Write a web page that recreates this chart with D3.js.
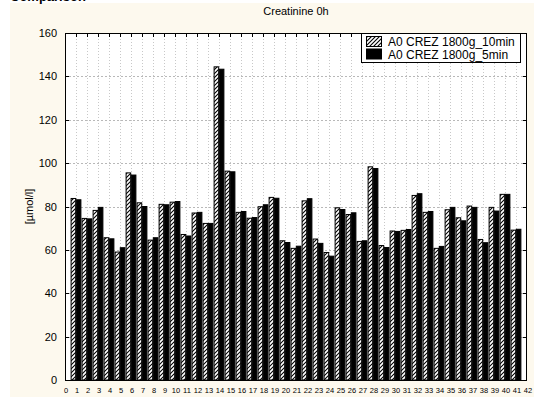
<!DOCTYPE html>
<html><head><meta charset="utf-8">
<script src="https://cdn.jsdelivr.net/npm/d3@7"></script>
<style>body{margin:0;background:#fff}svg{display:block;font-family:Arial,"Liberation Sans",sans-serif}</style>
</head><body><svg id="c" width="534" height="397"></svg>
<script>
const title = "Creatinine 0h";
const yLabel = "[µmol/l]";
const seriesNames = ["A0 CREZ 1800g_10min", "A0 CREZ 1800g_5min"];
const categories = d3.range(1, 42);
const xTickLabels = d3.range(0, 43);
const yTicks = [0, 20, 40, 60, 80, 100, 120, 140, 160];
const s10min = [83.7,74.5,78.2,65.6,59.0,95.5,81.7,64.5,81.0,82.0,67.1,77.0,72.2,144.4,96.3,77.3,74.6,79.9,84.2,64.2,60.7,82.6,65.0,58.8,79.4,76.3,63.9,98.3,62.0,68.7,69.0,85.1,77.3,60.7,78.5,74.8,80.2,64.8,79.6,85.6,69.1];
const s5min = [83.1,74.3,79.6,65.1,61.0,94.5,80.0,65.6,80.8,82.3,66.4,77.3,72.2,143.3,96.0,77.7,74.9,80.8,83.8,63.4,61.7,83.6,63.0,57.1,78.6,77.1,64.2,97.5,61.1,68.5,69.4,85.9,77.7,61.6,79.6,73.4,79.6,63.3,77.9,85.6,69.5];

const svg = d3.select("#c");
const W = 534, H = 397;
const m = {l: 65, t: 33, r: 527, b: 380};

svg.append("rect").attr("x",0).attr("y",0).attr("width",W).attr("height",H).attr("fill","#fff");
svg.append("rect").attr("x",10).attr("y",3).attr("width",W-10).attr("height",H-3).attr("fill","#fdf9ee");
svg.append("text").attr("x",10).attr("y",1).attr("font-weight","bold").attr("font-size",13).text("Comparison");

const defs = svg.append("defs");
const pat = defs.append("pattern").attr("id","hatch").attr("patternUnits","userSpaceOnUse")
  .attr("width",4).attr("height",4);
pat.append("rect").attr("width",4).attr("height",4).attr("fill","#fff");
pat.append("path").attr("d","M-1,1 l2,-2 M0,4 l4,-4 M3,5 l2,-2").attr("stroke","#000").attr("stroke-width",1.1);

const x = d3.scaleLinear().domain([0,42]).range([m.l, m.r]);
const y = d3.scaleLinear().domain([0,160]).range([m.b, m.t]);

svg.append("rect").attr("x",m.l).attr("y",m.t).attr("width",m.r-m.l).attr("height",m.b-m.t).attr("fill","#fff");

// grid
const g = svg.append("g");
g.selectAll(".vg").data(xTickLabels.slice(1,-1)).join("line")
  .attr("x1",d=>x(d)+0.5).attr("x2",d=>x(d)+0.5).attr("y1",m.t).attr("y2",m.b)
  .attr("stroke","#c8c8c8").attr("stroke-dasharray","1,2");
g.selectAll(".hg").data(yTicks.slice(1,-1)).join("line")
  .attr("y1",d=>Math.round(y(d))+0.5).attr("y2",d=>Math.round(y(d))+0.5).attr("x1",m.l).attr("x2",m.r)
  .attr("stroke","#b8b8b8").attr("stroke-dasharray","2,2");

// bars
const bw = 4.6;
const bars = svg.append("g");
bars.selectAll(".b1").data(categories).join("rect")
  .attr("x",(d,i)=>x(d)-bw-0.3).attr("width",bw)
  .attr("y",(d,i)=>y(s10min[i])).attr("height",(d,i)=>y(0)-y(s10min[i]))
  .attr("fill","url(#hatch)").attr("stroke","#000").attr("stroke-width",1);
bars.selectAll(".b2").data(categories).join("rect")
  .attr("x",(d,i)=>x(d)+0.3).attr("width",bw)
  .attr("y",(d,i)=>y(s5min[i])).attr("height",(d,i)=>y(0)-y(s5min[i]))
  .attr("fill","#000").attr("stroke","#000").attr("stroke-width",1);

// axes frame
svg.append("rect").attr("x",m.l+0.5).attr("y",m.t+0.5).attr("width",m.r-m.l-1).attr("height",m.b-m.t)
  .attr("fill","none").attr("stroke","#000").attr("stroke-width",1);

const ax = svg.append("g").attr("stroke","#000");
ax.selectAll(".tt").data(xTickLabels.slice(1,-1)).join("line")
  .attr("x1",d=>x(d)+0.5).attr("x2",d=>x(d)+0.5).attr("y1",m.t).attr("y2",m.t+4);
ax.selectAll(".lt").data(yTicks).join("line")
  .attr("x1",m.l).attr("x2",m.l+4).attr("y1",d=>Math.round(y(d))+0.5).attr("y2",d=>Math.round(y(d))+0.5);
ax.selectAll(".rt").data(yTicks).join("line")
  .attr("x1",m.r-4).attr("x2",m.r).attr("y1",d=>Math.round(y(d))+0.5).attr("y2",d=>Math.round(y(d))+0.5);

const yAxis = d3.axisLeft(y).tickValues(yTicks).tickSize(0).tickPadding(8);
const ya = svg.append("g").attr("transform",`translate(${m.l},0)`).call(yAxis);
ya.select(".domain").remove();
ya.selectAll("text").attr("font-size",11).attr("font-family","Arial,'Liberation Sans',sans-serif").attr("fill","#000");

const xAxis = d3.axisBottom(x).tickValues(xTickLabels).tickSize(0).tickPadding(8).tickFormat(d3.format("d"));
const xa = svg.append("g").attr("transform",`translate(0.5,${m.b})`).call(xAxis);
xa.select(".domain").remove();
xa.selectAll("text").attr("font-size",7.5).attr("font-family","Arial,'Liberation Sans',sans-serif").attr("fill","#000");

svg.append("text").attr("x",(m.l+m.r)/2).attr("y",15).attr("text-anchor","middle").attr("font-size",11).text(title);
svg.append("text").attr("transform",`translate(33,${(m.t+m.b)/2}) rotate(-90)`).attr("text-anchor","middle").attr("font-size",11).text(yLabel);

const lg = svg.append("g");
lg.append("rect").attr("x",361.5).attr("y",m.t+0.5).attr("width",159).attr("height",29).attr("fill","#fff").attr("stroke","#000");
const sw = ["url(#hatch)","#000"];
seriesNames.forEach((n,i)=>{
  lg.append("rect").attr("x",366.5).attr("y",36.5+i*12.5).attr("width",15).attr("height",10).attr("fill",sw[i]).attr("stroke","#000");
  lg.append("text").attr("x",388).attr("y",46+i*12.5).attr("font-size",12).text(n);
});
</script></body></html>
